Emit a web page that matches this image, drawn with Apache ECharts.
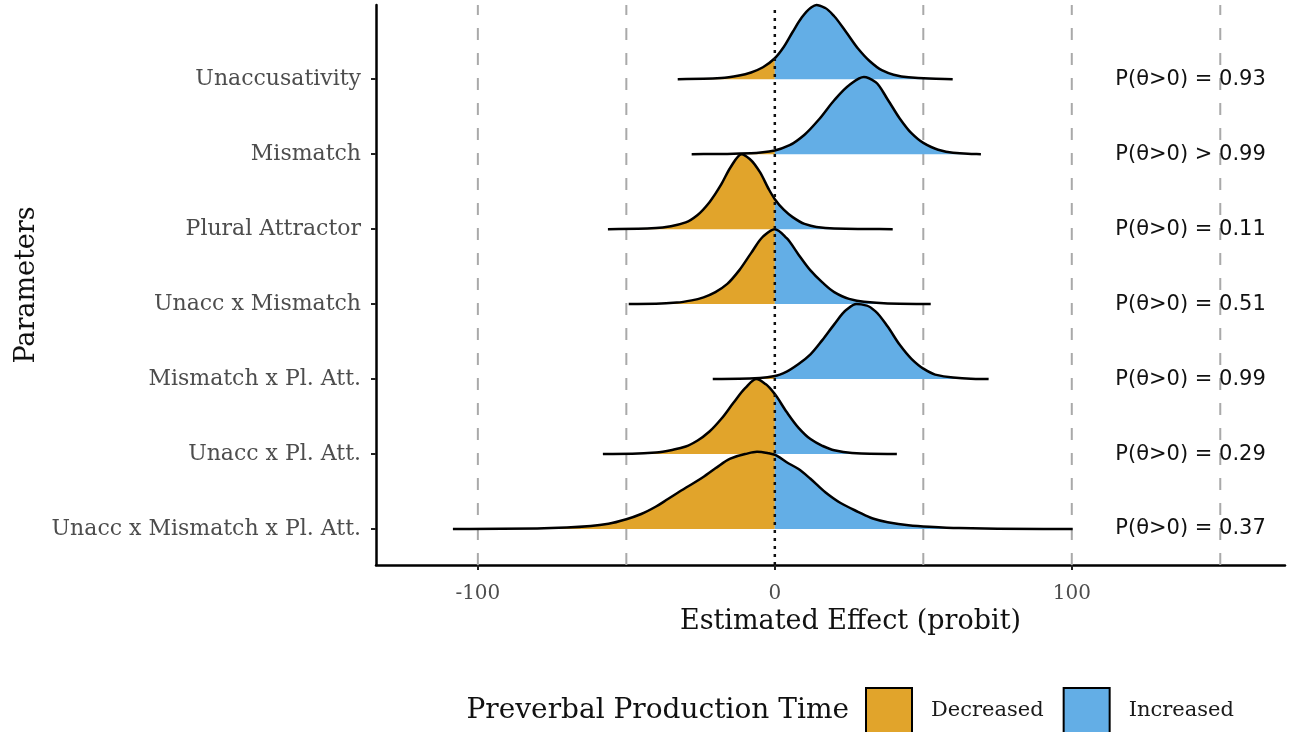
<!DOCTYPE html>
<html>
<head>
<meta charset="utf-8">
<script src="https://cdn.jsdelivr.net/npm/echarts@6/dist/echarts.min.js"></script>
<style>
  html, body { margin: 0; padding: 0; background: #ffffff; }
  #chart { width: 1313px; height: 732px; }
</style>
</head>
<body>
<div id="chart"></div>
<script>
// Model parameters, listed top to bottom
const parameters = [
  'Unaccusativity',
  'Mismatch',
  'Plural Attractor',
  'Unacc x Mismatch',
  'Mismatch x Pl. Att.',
  'Unacc x Pl. Att.',
  'Unacc x Mismatch x Pl. Att.'
];

// Posterior probability that each effect is positive
const probLabels = [
  'P(θ>0) = 0.93',
  'P(θ>0) > 0.99',
  'P(θ>0) = 0.11',
  'P(θ>0) = 0.51',
  'P(θ>0) = 0.99',
  'P(θ>0) = 0.29',
  'P(θ>0) = 0.37'
];

// Posterior density profiles: [effect (probit), ridge height in row units]
const densUnaccusativity = [[-32.7,0],[-24,0.005],[-18,0.015],[-12,0.05],[-8,0.09],[-4,0.16],[0,0.28],[3,0.43],[6,0.63],[9,0.82],[12,0.95],[14,0.99],[17,0.95],[20,0.84],[24,0.63],[28,0.41],[32,0.24],[36,0.12],[40,0.06],[45,0.025],[52,0.008],[59.9,0]];
const densMismatch = [[-28,0],[-16,0.004],[-8,0.012],[-4,0.025],[0,0.05],[5,0.12],[10,0.26],[15,0.47],[20,0.72],[25,0.92],[30,1.03],[34,0.96],[38,0.73],[42,0.48],[46,0.28],[50,0.15],[55,0.06],[60,0.02],[65,0.006],[69.4,0]];
const densPluralAttractor = [[-56.2,0],[-46,0.005],[-40,0.015],[-35,0.04],[-30,0.09],[-26,0.19],[-22,0.36],[-18,0.6],[-15,0.82],[-11.2,1.0],[-8,0.92],[-5,0.76],[-2,0.53],[0,0.4],[3,0.26],[6,0.16],[10,0.07],[14,0.03],[20,0.01],[28,0.003],[39.7,0]];
const densUnaccMismatch = [[-49.2,0],[-40,0.005],[-33,0.02],[-28,0.05],[-24,0.09],[-20,0.16],[-16,0.27],[-12,0.45],[-8,0.68],[-4,0.9],[0,1.0],[4,0.88],[8,0.66],[12,0.45],[16,0.29],[20,0.16],[25,0.07],[30,0.03],[38,0.008],[52.5,0]];
const densMismatchPlAtt = [[-20.9,0],[-12,0.004],[-5,0.015],[0,0.04],[4,0.1],[8,0.2],[12,0.33],[16,0.52],[20,0.73],[24,0.92],[27.5,1.0],[31,0.98],[34,0.9],[38,0.7],[42,0.46],[46,0.27],[50,0.14],[54,0.06],[60,0.02],[66,0.005],[72,0]];
const densUnaccPlAtt = [[-57.9,0],[-48,0.004],[-40,0.02],[-34,0.06],[-30,0.1],[-26,0.18],[-22,0.3],[-18,0.47],[-14,0.68],[-10,0.88],[-6.2,1.0],[-3,0.93],[0,0.8],[4,0.56],[8,0.35],[12,0.2],[16,0.11],[20,0.05],[26,0.015],[32,0.004],[41.1,0]];
const densThreeWay = [[-108.4,0],[-92,0.003],[-80,0.008],[-70,0.02],[-62,0.04],[-56,0.07],[-50,0.13],[-45,0.2],[-40,0.3],[-36,0.4],[-30,0.55],[-25,0.67],[-20,0.81],[-15,0.94],[-10,1.0],[-6,1.03],[-2,1.01],[0,0.99],[4,0.89],[8,0.8],[12,0.67],[17,0.49],[22,0.35],[28,0.23],[33,0.14],[38,0.09],[45,0.05],[52,0.03],[62,0.012],[75,0.004],[100.3,0]];

const densities = [
  densUnaccusativity,
  densMismatch,
  densPluralAttractor,
  densUnaccMismatch,
  densMismatchPlAtt,
  densUnaccPlAtt,
  densThreeWay
];

const xTicks = [-100, 0, 100];
const refLines = [-100, -50, 50, 100, 150];
const zeroLine = 0;
const probLabelX = 140;

const ORANGE = '#E1A42B';
const BLUE = '#63AEE6';
const nRows = parameters.length;
const rowValues = parameters.map((_, i) => nRows - 1 - i);

// Monotone cubic (Fritsch–Carlson) tangents in screen space
function tangents(p) {
  const n = p.length, d = [], m = [];
  for (let i = 0; i < n - 1; i++) d.push((p[i + 1][1] - p[i][1]) / (p[i + 1][0] - p[i][0]));
  m[0] = d[0];
  m[n - 1] = d[n - 2];
  for (let i = 1; i < n - 1; i++) {
    if (d[i - 1] * d[i] <= 0) { m[i] = 0; continue; }
    const h0 = p[i][0] - p[i - 1][0], h1 = p[i + 1][0] - p[i][0];
    const w1 = 2 * h1 + h0, w2 = h1 + 2 * h0;
    m[i] = (w1 + w2) / (w1 / d[i - 1] + w2 / d[i]);
  }
  return m;
}

function segments(p, m, from, to) {
  let s = '';
  for (let i = from; i < to; i++) {
    const dx = p[i + 1][0] - p[i][0];
    s += ' C' + (p[i][0] + dx / 3) + ',' + (p[i][1] + m[i] * dx / 3) + ' ' +
         (p[i + 1][0] - dx / 3) + ',' + (p[i + 1][1] - m[i + 1] * dx / 3) + ' ' +
         p[i + 1][0] + ',' + p[i + 1][1];
  }
  return s;
}

function renderRidge(params, api) {
  const i = params.dataIndex;
  const dens = densities[i];
  const base = rowValues[i];
  const p = dens.map(d => api.coord([d[0], base + d[1]]));
  const m = tangents(p);
  const k = dens.findIndex(d => d[0] === zeroLine);
  const yb = api.coord([0, base])[1];
  const n = p.length;
  const leftD = 'M' + p[0][0] + ',' + yb + ' L' + p[0][0] + ',' + p[0][1] +
    segments(p, m, 0, k) + ' L' + p[k][0] + ',' + yb + ' Z';
  const rightD = 'M' + p[k][0] + ',' + yb + ' L' + p[k][0] + ',' + p[k][1] +
    segments(p, m, k, n - 1) + ' L' + p[n - 1][0] + ',' + yb + ' Z';
  const lineD = 'M' + p[0][0] + ',' + p[0][1] + segments(p, m, 0, n - 1);
  return {
    type: 'group',
    children: [
      { type: 'path', shape: { pathData: leftD }, style: { fill: ORANGE } },
      { type: 'path', shape: { pathData: rightD }, style: { fill: BLUE } },
      { type: 'path', shape: { pathData: lineD },
        style: { fill: null, stroke: '#000', lineWidth: 2.5, lineJoin: 'round', lineCap: 'butt' } }
    ]
  };
}

const Y_MIN = -0.48, Y_MAX = 6.99;

const chart = echarts.init(document.getElementById('chart'), null, { renderer: 'canvas' });

chart.setOption({
  animation: false,
  backgroundColor: '#ffffff',
  grid: { left: 376, right: 28, top: 5, bottom: 167, containLabel: false },
  xAxis: {
    type: 'value',
    min: -134.3,
    max: 171.8,
    name: 'Estimated Effect (probit)',
    nameLocation: 'middle',
    nameGap: 40,
    nameTextStyle: { fontFamily: 'DejaVu Serif', fontSize: 27, color: '#111', padding: [0, 0, 0, 40] },
    axisLine: { onZero: false, lineStyle: { color: '#000', width: 2.5 } },
    axisTick: { show: true, length: 5, customValues: xTicks, lineStyle: { color: '#222', width: 2 } },
    axisLabel: { customValues: xTicks, margin: 19, fontFamily: 'DejaVu Serif', fontSize: 20, color: '#4d4d4d' },
    splitLine: { show: false }
  },
  yAxis: {
    type: 'value',
    min: Y_MIN,
    max: Y_MAX,
    name: 'Parameters',
    nameLocation: 'middle',
    nameRotate: 90,
    nameGap: 325,
    nameTextStyle: { fontFamily: 'DejaVu Serif', fontSize: 27, color: '#111' },
    axisLine: { show: true, onZero: false, lineStyle: { color: '#000', width: 2.5 } },
    axisTick: { show: true, length: 5, customValues: rowValues, lineStyle: { color: '#222', width: 2 } },
    axisLabel: {
      customValues: rowValues,
      margin: 15,
      fontFamily: 'DejaVu Serif',
      fontSize: 22,
      color: '#4d4d4d',
      formatter: v => parameters[nRows - 1 - Math.round(v)]
    },
    splitLine: { show: false }
  },
  legend: {
    left: 865,
    top: 687,
    padding: 0,
    itemWidth: 46,
    itemHeight: 46,
    itemGap: 19,
    icon: 'rect',
    itemStyle: { borderColor: '#000', borderWidth: 2, opacity: 1 },
    textStyle: { fontFamily: 'DejaVu Serif', fontSize: 21, color: '#1a1a1a', padding: [2, 0, 0, 14] },
    data: ['Decreased', 'Increased']
  },
  graphic: [{
    type: 'text',
    x: 849,
    y: 711,
    style: {
      text: 'Preverbal Production Time',
      fontFamily: 'DejaVu Serif',
      fontSize: 28,
      fill: '#111',
      align: 'right',
      verticalAlign: 'middle'
    }
  }],
  series: [
    {
      // dashed reference lines
      type: 'custom',
      z: 1,
      silent: true,
      data: refLines.map(v => [v]),
      renderItem: (params, api) => {
        const v = api.value(0);
        const a = api.coord([v, Y_MIN]);
        const b = api.coord([v, Y_MAX]);
        return { type: 'line', shape: { x1: a[0], y1: a[1], x2: b[0], y2: b[1] },
          style: { stroke: '#a9a9a9', lineWidth: 2, lineDash: [12, 13] } };
      }
    },
    {
      // density ridges, split at zero
      type: 'custom',
      z: 2,
      silent: true,
      data: parameters.map((name, i) => ({ name: name, value: [i] })),
      renderItem: renderRidge
    },
    {
      // dotted line at zero
      type: 'custom',
      z: 3,
      silent: true,
      data: [[zeroLine]],
      renderItem: (params, api) => {
        const v = api.value(0);
        const a = api.coord([v, Y_MIN]);
        const b = api.coord([v, Y_MAX]);
        return { type: 'line', shape: { x1: a[0], y1: a[1], x2: b[0], y2: b[1] },
          style: { stroke: '#111', lineWidth: 2.5, lineDash: [3, 5] } };
      }
    },
    {
      // posterior probability labels
      type: 'custom',
      z: 4,
      silent: true,
      data: probLabels.map((t, i) => ({ name: t, value: [probLabelX, rowValues[i]] })),
      renderItem: (params, api) => {
        const c = api.coord([api.value(0), api.value(1)]);
        return { type: 'text', x: c[0], y: c[1],
          style: { text: probLabels[params.dataIndex], fontFamily: 'DejaVu Sans', fontSize: 21,
                   fill: '#111', align: 'center', verticalAlign: 'middle' } };
      }
    },
    { name: 'Decreased', type: 'scatter', data: [], itemStyle: { color: ORANGE, opacity: 1 } },
    { name: 'Increased', type: 'scatter', data: [], itemStyle: { color: BLUE, opacity: 1 } }
  ]
});
</script>
</body>
</html>
